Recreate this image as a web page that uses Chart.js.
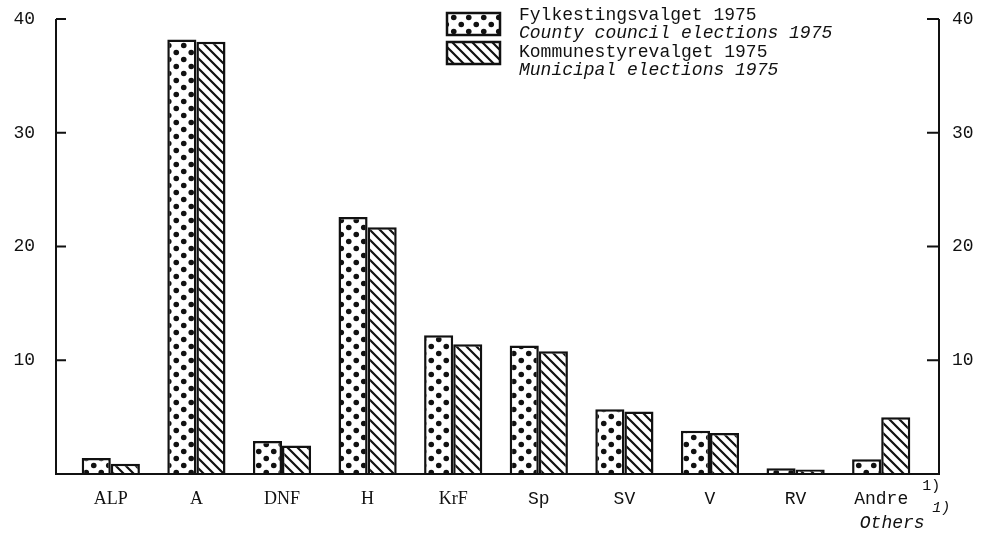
<!DOCTYPE html>
<html>
<head>
<meta charset="utf-8">
<script src="https://cdn.jsdelivr.net/npm/chart.js@4/dist/chart.umd.min.js"></script>
<style>
  body { margin: 0; background: #fff; }
  #wrap { width: 982px; height: 533px; }
</style>
</head>
<body>
<div id="wrap"><canvas id="electionChart" width="982" height="533"></canvas></div>
<script>
// Party shares of the vote, per cent, 1975
const categories = ['ALP', 'A', 'DNF', 'H', 'KrF', 'Sp', 'SV', 'V', 'RV', 'Andre'];
const countyValues = [1.4, 38.2, 2.9, 22.6, 12.2, 11.3, 5.7, 3.8, 0.5, 1.3];
const municipalValues = [0.9, 38.0, 2.5, 21.7, 11.4, 10.8, 5.5, 3.6, 0.4, 5.0];
const yTicks = [10, 20, 30, 40];
const legendNorwegian = ['Fylkestingsvalget 1975', 'Kommunestyrevalget 1975'];
const legendEnglish = ['County council elections 1975', 'Municipal elections 1975'];
const othersLabel = 'Others';
const footnote = '1)';

const INK = '#111';
const MONO = '"Liberation Mono", "DejaVu Sans Mono", monospace';
const SERIF = '"Liberation Serif", serif';

// Dotted fill
function dotPattern() {
    const c = document.createElement('canvas');
    c.width = 15; c.height = 14;
    const g = c.getContext('2d');
    g.fillStyle = '#fff';
    g.fillRect(0, 0, 15, 14);
    g.fillStyle = INK;
    [[3.75, 3.5], [11.25, 10.5]].forEach(([x, y]) => {
        g.beginPath();
        g.arc(x, y, 2.8, 0, Math.PI * 2);
        g.fill();
    });
    return g.createPattern(c, 'repeat');
}

// Diagonal hatch fill (\\\)
function hatchPattern() {
    const s = 10;
    const c = document.createElement('canvas');
    c.width = s; c.height = s;
    const g = c.getContext('2d');
    g.fillStyle = '#fff';
    g.fillRect(0, 0, s, s);
    g.strokeStyle = INK;
    g.lineWidth = 2.2;
    g.beginPath();
    g.moveTo(-1, -1); g.lineTo(s + 1, s + 1);
    g.moveTo(-1, s - 1); g.lineTo(1, s + 1);
    g.moveTo(s - 1, -1); g.lineTo(s + 1, 1);
    g.stroke();
    return g.createPattern(c, 'repeat');
}

const dots = dotPattern();
const hatch = hatchPattern();

// Axes with inward ticks on both sides, plus footnote labels
const framePlugin = {
    id: 'frame',
    afterDraw(chart) {
        const { ctx, chartArea, scales } = chart;
        const y = scales.y;
        const x = scales.x;
        const axL = chartArea.left - 12;
        const axR = chartArea.right + 15;
        const y0 = y.getPixelForValue(0);
        const yTop = y.getPixelForValue(yTicks[yTicks.length - 1]);

        ctx.save();
        ctx.strokeStyle = INK;
        ctx.lineWidth = 2;
        ctx.beginPath();
        ctx.moveTo(axL, yTop);
        ctx.lineTo(axL, y0);
        ctx.lineTo(axR, y0);
        ctx.lineTo(axR, yTop);
        ctx.stroke();

        ctx.fillStyle = INK;
        ctx.font = '18px ' + MONO;
        ctx.textBaseline = 'middle';
        yTicks.forEach(v => {
            const py = y.getPixelForValue(v);
            ctx.beginPath();
            ctx.moveTo(axL, py); ctx.lineTo(axL + 10, py);
            ctx.moveTo(axR, py); ctx.lineTo(axR - 12, py);
            ctx.stroke();
            ctx.textAlign = 'right';
            ctx.fillText(String(v), axL - 21, py);
            ctx.textAlign = 'left';
            ctx.fillText(String(v), axR + 13, py);
        });

        // "Andre 1)" / "Others 1)"
        const px = x.getPixelForValue(categories.length - 1);
        ctx.font = '15px ' + MONO;
        ctx.textAlign = 'left';
        ctx.fillText(footnote, px + 41, y0 + 12);
        ctx.font = 'italic 18px ' + MONO;
        ctx.textAlign = 'center';
        ctx.fillText(othersLabel, px + 11, y0 + 49);
        ctx.font = 'italic 15px ' + MONO;
        ctx.textAlign = 'left';
        ctx.fillText(footnote, px + 51, y0 + 34);
        ctx.restore();
    }
};

// Legend with Norwegian name and English italic line
const legendPlugin = {
    id: 'twoLineLegend',
    afterDraw(chart) {
        const { ctx } = chart;
        const boxX = 447, boxW = 53, boxH = 22;
        const boxTops = [13, 42];
        const textTops = [15, 52];
        ctx.save();
        chart.data.datasets.forEach((ds, i) => {
            const top = boxTops[i];
            ctx.fillStyle = ds.backgroundColor;
            ctx.fillRect(boxX, top, boxW, boxH);
            ctx.strokeStyle = INK;
            ctx.lineWidth = 2.5;
            ctx.strokeRect(boxX, top, boxW, boxH);
            ctx.fillStyle = INK;
            ctx.textAlign = 'left';
            ctx.textBaseline = 'middle';
            ctx.font = '18px ' + MONO;
            ctx.fillText(legendNorwegian[i], 519, textTops[i]);
            ctx.font = 'italic 18px ' + MONO;
            ctx.fillText(legendEnglish[i], 519, textTops[i] + 18.5);
        });
        ctx.restore();
    }
};

new Chart(document.getElementById('electionChart'), {
    type: 'bar',
    data: {
        labels: categories,
        datasets: [
            {
                label: legendEnglish[0],
                data: countyValues,
                backgroundColor: dots,
                borderColor: INK,
                borderWidth: 2.5
            },
            {
                label: legendEnglish[1],
                data: municipalValues,
                backgroundColor: hatch,
                borderColor: INK,
                borderWidth: 2.5
            }
        ]
    },
    options: {
        responsive: false,
        animation: false,
        layout: { padding: { left: 68, right: 58, top: 19, bottom: 0 } },
        datasets: { bar: { categoryPercentage: 0.68, barPercentage: 1.0 } },
        plugins: {
            legend: { display: false },
            tooltip: { enabled: false }
        },
        scales: {
            x: {
                grid: { display: false, drawTicks: false },
                border: { display: false },
                afterFit: s => { s.height = 59; },
                ticks: {
                    color: INK,
                    padding: 14,
                    maxRotation: 0,
                    autoSkip: false,
                    font: c => ({ family: c.index < 5 ? SERIF : MONO, size: 18 })
                }
            },
            y: {
                display: false,
                min: 0,
                max: 40
            }
        }
    },
    plugins: [framePlugin, legendPlugin]
});
</script>
</body>
</html>
